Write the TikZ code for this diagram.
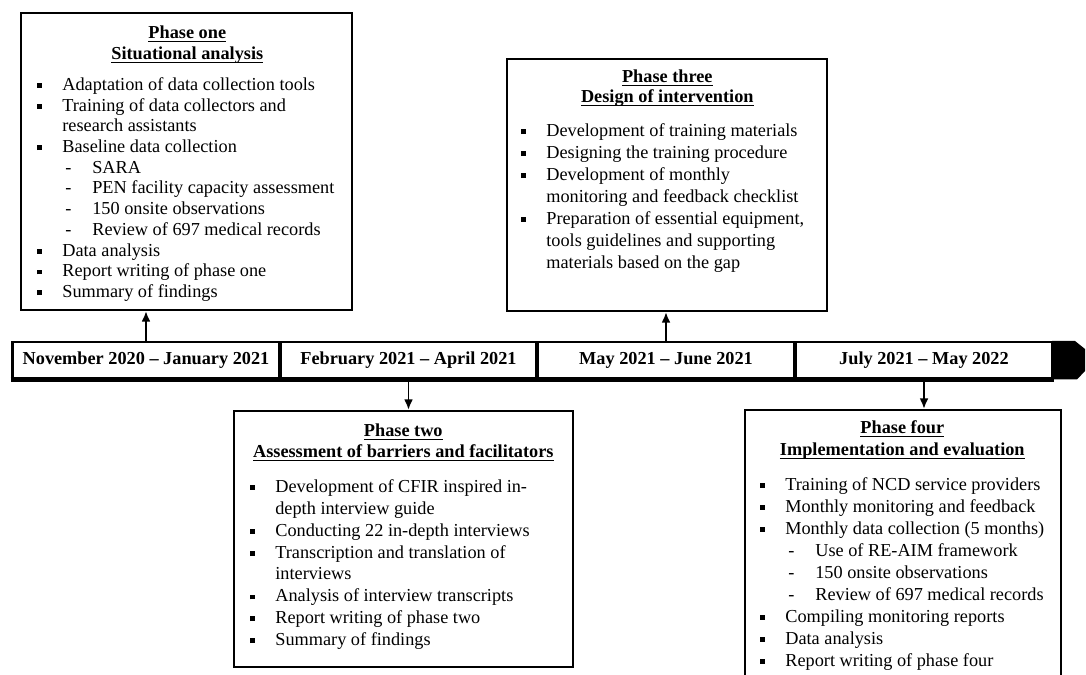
\documentclass[tikz,border=0pt]{standalone}
\usepackage{fontspec}
\setmainfont{Liberation Serif}
\usetikzlibrary{fit,arrows.meta}
\newcommand\bsq{\rule[1.4pt]{2.7pt}{2.7pt}}
\newcommand\ulx[1]{\leavevmode\setbox0\hbox{#1}\rlap{\rule[-2.0pt]{\wd0}{0.55pt}}\box0}
\newcommand\itemB[1]{\noindent\makebox[0.5cm][l]{\bsq}\mbox{#1}\par}
\newcommand\itemC[1]{\noindent\hspace*{0.5cm}\mbox{#1}\par}
\newcommand\itemD[1]{\noindent\hspace*{0.56cm}\makebox[0.54cm][l]{-}\mbox{#1}\par}
\newcommand\phasetitle[3]{{\centering\bfseries\ulx{#1}\\[#3]\ulx{#2}\par}}
\tikzset{
  x=0.02cm, y=-0.02cm,
  phasebox/.style={draw, line width=1.2pt, inner sep=0pt},
  seg/.style={draw, line width=1.7pt, inner sep=0pt, minimum height=0.72cm,
    font=\fontsize{10.4}{12}\selectfont\bfseries},
  conn/.style={line width=1.1pt, -{Latex[length=6pt,width=5pt]}},
  txt/.style={anchor=base west, inner sep=0pt},
}
\begin{document}
\begin{tikzpicture}
\path[use as bounding box] (0,0) rectangle (1086,675);
\clip (0,0) rectangle (1086,675);

% timeline
\node[seg, minimum width=5.36cm] (s1) at (146,360) {November 2020 -- January 2021};
\node[seg, minimum width=5.14cm] (s2) at (408.5,360) {February 2021 -- April 2021};
\node[seg, minimum width=5.16cm] (s3) at (666,360) {May 2021 -- June 2021};
\node[seg, minimum width=5.16cm] (s4) at (924,360) {July 2021 -- May 2022};
\draw[line width=2.4pt] (s1.south west) -- (s4.south east);
\fill[black] (1052,341) -- (1075,341) -- (1085,349) -- (1085,371) -- (1077,379.5) -- (1052,379.5) -- cycle;

% phase boxes
\node[phasebox, fit={(21,13) (352,310)}] (p1) {};
\node[phasebox, fit={(507,59) (827,311)}] (p3) {};
\node[phasebox, fit={(234,411) (573,667)}] (p2) {};
\node[phasebox, fit={(745,410) (1061,700)}] (p4) {};

% connectors
\draw[conn] (s1.north) -- (s1.north |- p1.south);
\draw[conn] (s3.north) -- (s3.north |- p3.south);
\draw[conn] (s2.south) -- (s2.south |- p2.north);
\draw[conn] (s4.south) -- (s4.south |- p4.north);

% texts
\node[txt] (t1) at (37,38.5) {\begin{minipage}[t]{6.0cm}\setlength\parskip{0pt}\fontsize{10.4}{11.8}\selectfont
\phasetitle{Phase one}{Situational analysis}{0.1pt}
\vspace{5.8pt}
\itemB{Adaptation of data collection tools}
\itemB{Training of data collectors and}
\itemC{research assistants}
\itemB{Baseline data collection}
\itemD{SARA}
\itemD{PEN facility capacity assessment}
\itemD{150 onsite observations}
\itemD{Review of 697 medical records}
\itemB{Data analysis}
\itemB{Report writing of phase one}
\itemB{Summary of findings}
\end{minipage}};

\node[txt] (t3) at (521,82.5) {\begin{minipage}[t]{5.84cm}\setlength\parskip{0pt}\fontsize{10.4}{12.5}\selectfont
\phasetitle{Phase three}{Design of intervention}{-1.1pt}
\vspace{6.9pt}
\itemB{Development of training materials}
\itemB{Designing the training procedure}
\itemB{Development of monthly}
\itemC{monitoring and feedback checklist}
\itemB{Preparation of essential equipment,}
\itemC{tools guidelines and supporting}
\itemC{materials based on the gap}
\end{minipage}};

\node[txt] (t2) at (250,436.5) {\begin{minipage}[t]{6.12cm}\setlength\parskip{0pt}\fontsize{10.4}{12.45}\selectfont
\phasetitle{Phase two}{Assessment of barriers and facilitators}{-0.45pt}
\vspace{7.4pt}
\itemB{Development of CFIR inspired in-}
\itemC{depth interview guide}
\itemB{Conducting 22 in-depth interviews}
\itemB{Transcription and translation of}
\itemC{interviews}
\itemB{Analysis of interview transcripts}
\itemB{Report writing of phase two}
\itemB{Summary of findings}
\end{minipage}};

\node[txt] (t4) at (760,433.5) {\begin{minipage}[t]{5.68cm}\setlength\parskip{0pt}\fontsize{10.4}{12.5}\selectfont
\phasetitle{Phase four}{Implementation and evaluation}{0pt}
\vspace{7.4pt}
\itemB{Training of NCD service providers}
\itemB{Monthly monitoring and feedback}
\itemB{Monthly data collection (5 months)}
\itemD{Use of RE-AIM framework}
\itemD{150 onsite observations}
\itemD{Review of 697 medical records}
\itemB{Compiling monitoring reports}
\itemB{Data analysis}
\itemB{Report writing of phase four}
\end{minipage}};
\end{tikzpicture}
\end{document}
